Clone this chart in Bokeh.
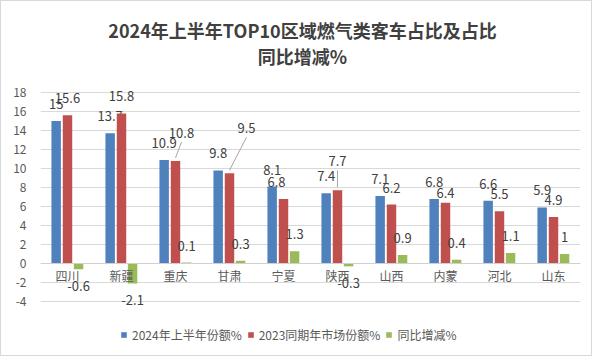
from bokeh.plotting import figure
from bokeh.models import ColumnDataSource, Range1d, FixedTicker, Legend, LegendItem, Span
from bokeh.core.properties import value
from bokeh.embed import file_html
from bokeh.resources import INLINE

categories = ["四川", "新疆", "重庆", "甘肃", "宁夏", "陕西", "山西", "内蒙", "河北", "山东"]
share_2024 = [15, 13.7, 10.9, 9.8, 8.1, 7.4, 7.1, 6.8, 6.6, 5.9]
share_2023 = [15.6, 15.8, 10.8, 9.5, 6.8, 7.7, 6.2, 6.4, 5.5, 4.9]
change = [-0.6, -2.1, 0.1, 0.3, 1.3, -0.3, 0.9, 0.4, 1.1, 1]
y_ticks = [-4, -2, 0, 2, 4, 6, 8, 10, 12, 14, 16, 18]
y_tick_labels = ["-4", "-2", "0", "2", "4", "6", "8", "10", "12", "14", "16", "18"]
series_names = ["2024年上半年份额%", "2023同期年市场份额%", "同比增减%"]
title_lines = ["2024年上半年TOP10区域燃气类客车占比及占比", "同比增减%"]
colors = ["#4f81bd", "#c0504d", "#9bbb59"]

FONT = "Noto Sans CJK SC"
FW, FH = 540, 354              # frame covers the whole inner height
AXIS_TOP_PX, AXIS_H_PX = 91, 209  # pixel position/height of the -4..18 axis span in the frame
ML, MR = 39, 11
AX_MIN, AX_MAX = -4, 18
px_y = (AX_MAX - AX_MIN) / AXIS_H_PX      # data units per pixel (y)
YMAX = AX_MAX + AXIS_TOP_PX * px_y
YMIN = AX_MIN - (FH - AXIS_TOP_PX - AXIS_H_PX) * px_y
XMIN, XMAX = -0.5, 9.5
px_x = (XMAX - XMIN) / FW                 # data units per pixel (x)


def y_at(px_from_top):
    return YMAX - px_from_top * px_y


p = figure(frame_width=FW, frame_height=FH, output_backend="svg", toolbar_location=None,
           x_range=Range1d(XMIN, XMAX), y_range=Range1d(YMIN, YMAX), x_axis_location=None,
           min_border_left=ML, min_border_right=MR, min_border_top=0, min_border_bottom=0,
           background_fill_color="white", border_fill_color="white")
p.outline_line_color = None
p.styles = {"border": "1px solid #d9d9d9"}

# axes
p.yaxis.ticker = FixedTicker(ticks=y_ticks)
p.yaxis.major_label_overrides = {t: s for t, s in zip(y_ticks, y_tick_labels)}
p.yaxis.axis_line_color = None
p.yaxis.major_tick_line_color = None
p.yaxis.minor_tick_line_color = None
p.yaxis.major_label_text_font = FONT
p.yaxis.major_label_text_font_size = "12px"
p.yaxis.major_label_text_color = "#595959"
p.yaxis.major_label_standoff = 8
p.xgrid.grid_line_color = None
p.ygrid.ticker = FixedTicker(ticks=y_ticks)
p.ygrid.grid_line_color = "#d9d9d9"
p.ygrid.grid_line_width = 1
p.add_layout(Span(location=0, dimension="width", line_color="#d0d0d0", line_width=1))

# title (two centred lines)
p.text(x=[4.5, 4.5], y=[y_at(28), y_at(54)], text=title_lines, x_offset=-8,
       text_font=value(FONT), text_font_size="18px", text_font_style="bold",
       text_color="#404040", text_align="center", text_baseline="middle")

xs = list(range(len(categories)))
offsets = [-0.21, 0.0, 0.205]
series = [share_2024, share_2023, change]
bar_w = 0.175

# extra label shifts (pixels; dx right, up = upward)
extra_dx = [
    [0] * 10,
    [0, 0, 6, 17, -7, 0, 0, 0, 0, 0],
    [0] * 10,
]
extra_up = [
    [0] * 10,
    [0, 0, 11, 28, 0, 12, 0, -7, 0, 0],
    [0] * 10,
]

renderers = []
for k in range(3):
    bx = [x + offsets[k] for x in xs]
    src = ColumnDataSource(dict(x=bx, top=series[k]))
    r = p.vbar(x="x", top="top", bottom=0, width=bar_w, source=src,
               fill_color=colors[k], line_color=None)
    renderers.append(r)
    lx, ly, lt, xo, yo = [], [], [], [], []
    for i, v in enumerate(series[k]):
        up = 17 + extra_up[k][i]
        lx.append(bx[i])
        ly.append(v)
        lt.append(f"{v:g}")
        xo.append(extra_dx[k][i])
        yo.append(-up if v >= 0 else 17)
    lsrc = ColumnDataSource(dict(x=lx, y=ly, t=lt, xo=xo, yo=yo))
    p.text(x="x", y="y", text="t", x_offset="xo", y_offset="yo", source=lsrc,
           text_font=value(FONT), text_font_size="13px", text_color="#404040",
           text_align="center", text_baseline="middle")
    # leader lines for moved labels
    sx0, sy0, sx1, sy1 = [], [], [], []
    for i, v in enumerate(series[k]):
        if extra_up[k][i] >= 10:
            up = 17 + extra_up[k][i]
            sx0.append(bx[i])
            sy0.append(v + 3 * px_y)
            sx1.append(bx[i] + extra_dx[k][i] * px_x)
            sy1.append(v + (up - 9) * px_y)
    if sx0:
        p.segment(x0=sx0, y0=sy0, x1=sx1, y1=sy1, line_color="#a6a6a6", line_width=1)

# category labels
csrc = ColumnDataSource(dict(x=xs, y=[0] * len(xs), t=categories))
p.text(x="x", y="y", text="t", source=csrc, y_offset=12,
       text_font=value(FONT), text_font_size="12px", text_color="#595959",
       text_align="center", text_baseline="middle")

# legend inside the (full-height) frame, near the bottom
legend = Legend(items=[LegendItem(label=series_names[k], renderers=[renderers[k]]) for k in range(3)],
                orientation="horizontal", location=(80, 12),
                label_text_font=FONT, label_text_font_size="12px", label_text_color="#595959",
                glyph_width=7, glyph_height=7, label_height=14, label_standoff=5, spacing=5,
                padding=4, margin=0, border_line_color=None, background_fill_alpha=0)
p.add_layout(legend)

open("out.html", "w").write(file_html(p, INLINE))
